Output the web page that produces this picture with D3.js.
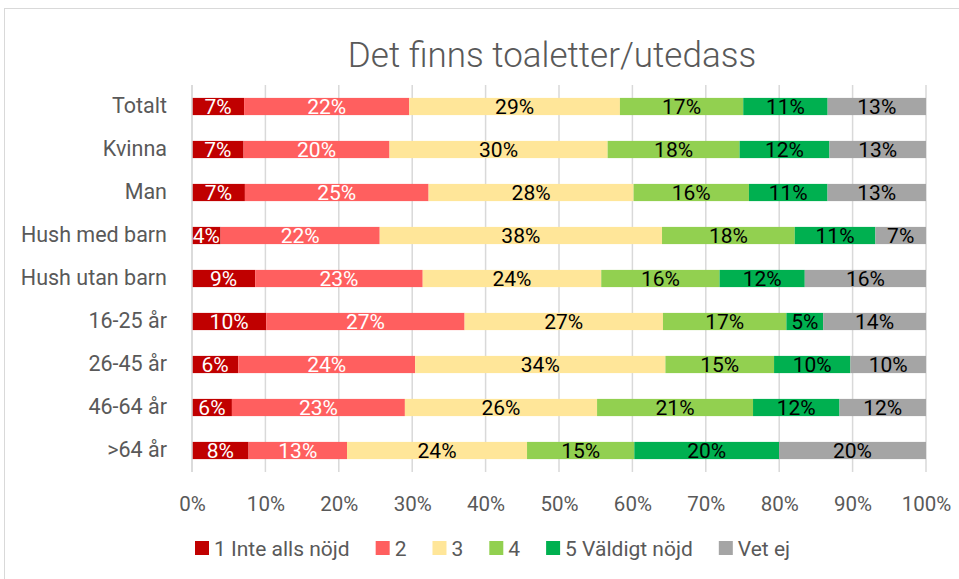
<!DOCTYPE html>
<html>
<head>
<meta charset="utf-8">
<script src="https://cdn.jsdelivr.net/npm/d3@7"></script>
<style>
  body { margin: 0; background: #fff; }
  svg text { font-family: Roboto, "Open Sans", sans-serif; }
</style>
</head>
<body>
<svg id="chart" width="959" height="579"></svg>
<script>
const title = 'Det finns toaletter/utedass'
const categories = ['Totalt', 'Kvinna', 'Man', 'Hush med barn', 'Hush utan barn', '16-25 år', '26-45 år', '46-64 år', '>64 år']
const seriesNames = ['1 Inte alls nöjd', '2', '3', '4', '5 Väldigt nöjd', 'Vet ej']
const seriesColors = ['#c00000', '#ff5f5f', '#ffe699', '#92d050', '#00b050', '#a5a5a5']
const labelColors = ['#ffffff', '#ffffff', '#000000', '#000000', '#000000', '#000000']

// shares per category, in series order
const s1 = [7.1, 7.0, 7.2, 3.9, 8.6, 10.1, 6.3, 5.4, 7.7]
const s2 = [22.5, 19.8, 25.0, 21.7, 22.8, 27.0, 24.1, 23.4, 13.4]
const s3 = [28.7, 29.6, 27.9, 38.5, 24.3, 27.0, 34.1, 26.0, 24.5]
const s4 = [16.8, 17.9, 15.7, 18.1, 16.1, 16.8, 14.8, 21.1, 14.6]
const s5 = [11.5, 12.2, 10.7, 11.0, 11.6, 5.0, 10.4, 11.7, 19.7]
const s6 = [13.4, 13.1, 13.4, 6.9, 16.5, 14.0, 10.3, 11.7, 20.0]
// data labels as printed on the chart
const labels = [
  ['7%', '22%', '29%', '17%', '11%', '13%'],
  ['7%', '20%', '30%', '18%', '12%', '13%'],
  ['7%', '25%', '28%', '16%', '11%', '13%'],
  ['4%', '22%', '38%', '18%', '11%', '7%'],
  ['9%', '23%', '24%', '16%', '12%', '16%'],
  ['10%', '27%', '27%', '17%', '5%', '14%'],
  ['6%', '24%', '34%', '15%', '10%', '10%'],
  ['6%', '23%', '26%', '21%', '12%', '12%'],
  ['8%', '13%', '24%', '15%', '20%', '20%'],
]
const xTicks = [0, 0.1, 0.2, 0.3, 0.4, 0.5, 0.6, 0.7, 0.8, 0.9, 1]

const series = [s1, s2, s3, s4, s5, s6]
const rows = categories.map((c, i) => {
  const row = { category: c }
  seriesNames.forEach((k, j) => { row[k] = series[j][i] })
  return row
})

const svg = d3.select('#chart')
const margins = { top: 85, right: 33, bottom: 107, left: 192 }
const width = 959 - margins.left - margins.right
const height = 579 - margins.top - margins.bottom
const textGrey = '#595959'

// outer chart frame
svg.append('rect')
  .attr('x', 4.5).attr('y', 8.5)
  .attr('width', 970).attr('height', 600)
  .attr('fill', 'none').attr('stroke', '#d9d9d9')

svg.append('text')
  .attr('x', 552).attr('y', 67)
  .attr('text-anchor', 'middle')
  .attr('font-size', 35)
  .attr('font-weight', 300)
  .attr('fill', textGrey)
  .text(title)

const g = svg.append('g').attr('transform', `translate(${margins.left}, ${margins.top})`)

const x = d3.scaleLinear().domain([0, 1]).range([0, width])
const y = d3.scaleBand().domain(categories).range([0, height]).paddingInner(0.6).paddingOuter(0.3)

// gridlines
g.append('g')
  .selectAll('line')
  .data(xTicks)
  .join('line')
  .attr('x1', (d) => x(d)).attr('x2', (d) => x(d))
  .attr('y1', 0).attr('y2', height)
  .attr('stroke', '#d9d9d9').attr('stroke-width', 1.5)

const xAxis = g.append('g')
  .attr('class', 'axis axis--x')
  .attr('transform', `translate(0, ${height})`)
  .call(d3.axisBottom(x).tickValues(xTicks).tickFormat(d3.format('.0%')).tickSize(0).tickPadding(24))
xAxis.select('.domain').remove()
xAxis.selectAll('text').attr('font-size', 20.5).attr('fill', textGrey)

const yAxis = g.append('g')
  .attr('class', 'axis axis--y')
  .call(d3.axisLeft(y).tickSize(0).tickPadding(25))
yAxis.select('.domain').remove()
yAxis.selectAll('text').attr('font-size', 21.5).attr('fill', textGrey)

// 100% stacked, like the source chart
const stacked = d3.stack().keys(seriesNames).offset(d3.stackOffsetExpand)(rows)

const layers = g.selectAll('.layer')
  .data(stacked)
  .join('g')
  .attr('class', 'layer')
  .attr('fill', (d, i) => seriesColors[i])

layers.selectAll('rect')
  .data((d) => d)
  .join('rect')
  .attr('x', (d) => x(d[0]))
  .attr('y', (d) => y(d.data.category))
  .attr('width', (d) => x(d[1]) - x(d[0]))
  .attr('height', y.bandwidth())

layers.each(function (layer, j) {
  d3.select(this).selectAll('text')
    .data(layer)
    .join('text')
    .attr('x', (d) => (x(d[0]) + x(d[1])) / 2)
    .attr('y', (d) => y(d.data.category) + y.bandwidth() / 2)
    .attr('dy', '0.36em')
    .attr('text-anchor', 'middle')
    .attr('font-size', 21)
    .attr('fill', labelColors[j])
    .text((d, i) => labels[i][j])
})

// axis line at 0%
g.append('line')
  .attr('x1', 0).attr('x2', 0).attr('y1', 0).attr('y2', height)
  .attr('stroke', '#d9d9d9').attr('stroke-width', 1.5)

// legend
const legend = svg.append('g').attr('transform', 'translate(195, 548)')
let lx = 0
seriesNames.forEach((name, i) => {
  const item = legend.append('g').attr('transform', `translate(${lx}, 0)`)
  item.append('rect')
    .attr('x', 0).attr('y', -7)
    .attr('width', 14).attr('height', 14)
    .attr('fill', seriesColors[i])
  const t = item.append('text')
    .attr('x', 19).attr('y', 0)
    .attr('dy', '0.36em')
    .attr('font-size', 21)
    .attr('fill', textGrey)
    .text(name)
  lx += 19 + t.node().getComputedTextLength() + 26
})
</script>
</body>
</html>
